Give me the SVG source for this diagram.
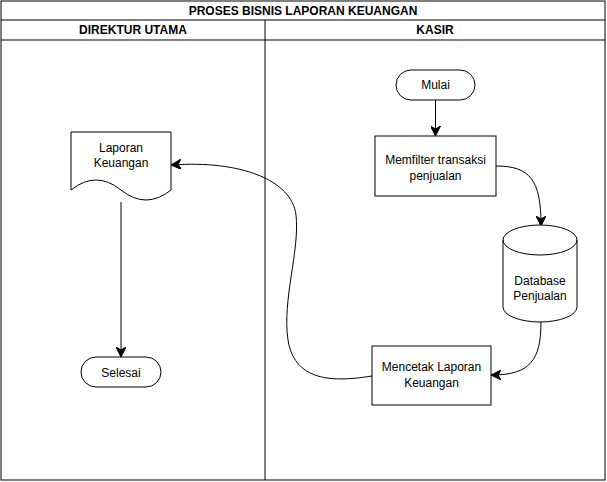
<svg xmlns="http://www.w3.org/2000/svg" width="607" height="482" viewBox="0 0 607 482">
<style>
.s{fill:#fff;stroke:#000;stroke-width:1}
.l{fill:none;stroke:#000;stroke-width:1}
.c{fill:none;stroke:#000;stroke-width:1;marker-end:url(#ah)}
text{font-family:"Liberation Sans",Arial,sans-serif;font-size:12px;fill:#000;text-anchor:middle}
.b{font-weight:bold}
</style>
<defs>
<marker id="ah" viewBox="0 0 10 10" refX="9" refY="5" markerWidth="10" markerHeight="10" markerUnits="userSpaceOnUse" orient="auto">
<path d="M0,0 L10,5 L0,10 L3,5 Z" fill="#000" stroke="#000" stroke-width="1"/>
</marker>
</defs>
<rect width="607" height="482" fill="#fff"/>
<g id="pool">
<rect class="s" x="1" y="1" width="604" height="479"/>
<line class="l" x1="1" y1="20" x2="605" y2="20"/>
<line class="l" x1="1" y1="40" x2="605" y2="40"/>
<line class="l" x1="265" y1="20" x2="265" y2="480"/>
<text class="b" x="303" y="15">PROSES BISNIS LAPORAN KEUANGAN</text>
<text class="b" x="133" y="34">DIREKTUR UTAMA</text>
<text class="b" x="435" y="34">KASIR</text>
</g>
<g id="connectors">
<path class="c" d="M435.5,100 L435.5,135"/>
<path class="c" d="M496,166 C530,166 541,180 541,225"/>
<path class="c" d="M541,322 C541,360 530,375 492,375"/>
<path class="c" d="M372,376 C340,381 295,385 288,340 C282,300 300,250 296,215 C292,180 240,160 172,165"/>
<path class="c" d="M121,202 L121,356"/>
</g>
<g id="mulai">
<rect class="s" x="396" y="70" width="79" height="30" rx="15" ry="15"/>
<text x="435.5" y="89">Mulai</text>
</g>
<g id="memfilter">
<rect class="s" x="375" y="136" width="121" height="60"/>
<text x="435.5" y="164">Memfilter transaksi</text>
<text x="435.5" y="180">penjualan</text>
</g>
<g id="database">
<path class="s" d="M503,240 A37,15 0 0 1 577,240 L577,307 A37,15 0 0 1 503,307 Z"/>
<path class="l" d="M503,240 A37,15 0 0 0 577,240"/>
<text x="540" y="285">Database</text>
<text x="540" y="300">Penjualan</text>
</g>
<g id="mencetak">
<rect class="s" x="372" y="346" width="119" height="59"/>
<text x="431.5" y="371">Mencetak Laporan</text>
<text x="431.5" y="387">Keuangan</text>
</g>
<g id="laporan">
<path class="s" d="M71,132 L171,132 L171,190 Q146,210 121,190 Q96,170 71,190 Z"/>
<text x="121" y="152">Laporan</text>
<text x="121" y="167">Keuangan</text>
</g>
<g id="selesai">
<rect class="s" x="81" y="357" width="80" height="30" rx="15" ry="15"/>
<text x="121" y="377">Selesai</text>
</g>
</svg>
